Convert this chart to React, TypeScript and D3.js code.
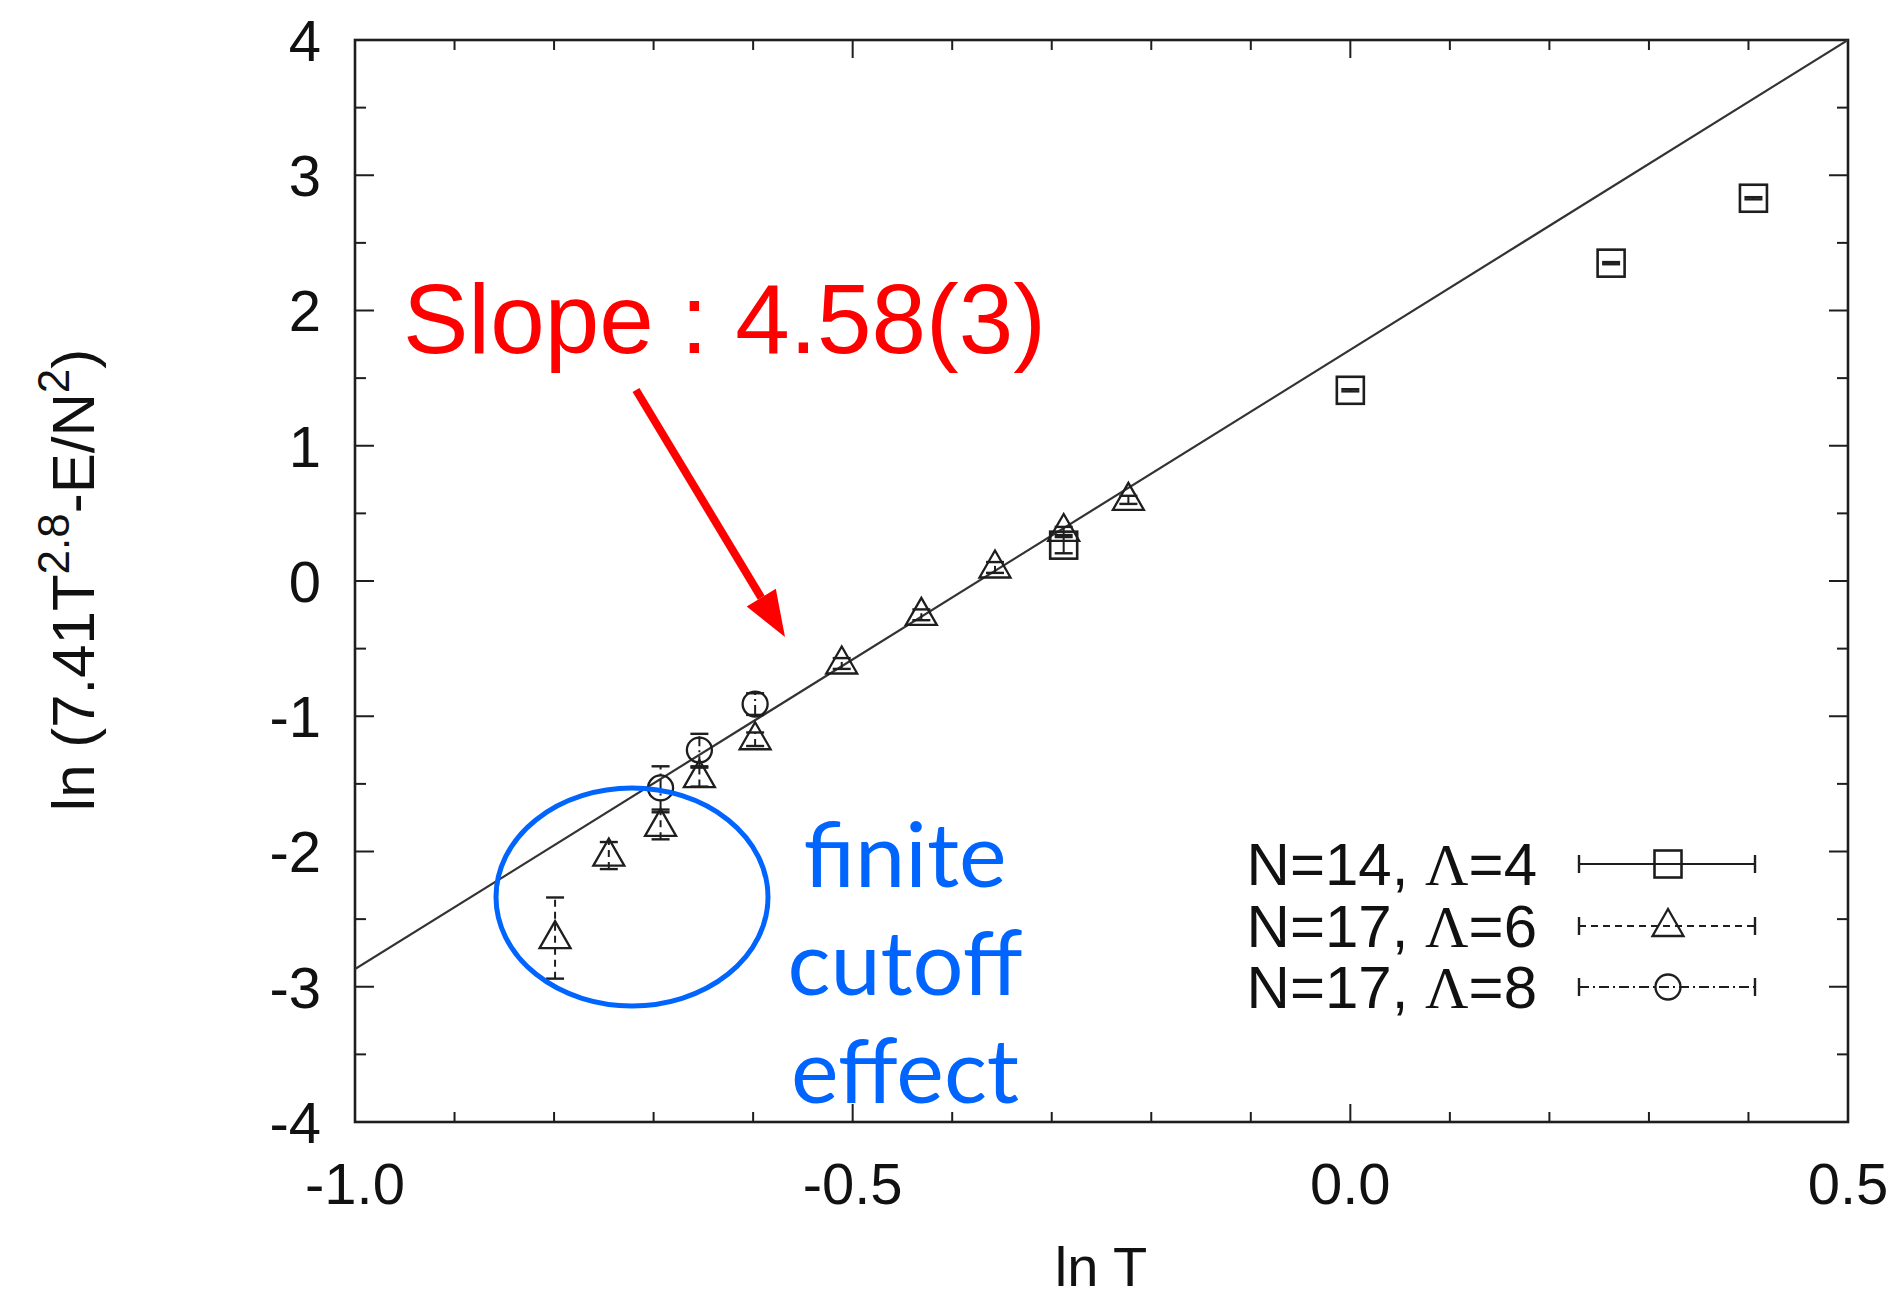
import React from "react";
import * as d3 from "d3";

// ln T values and ln(7.41 T^2.8 - E/N^2) for each run, with error bars
const sqX = [0.405, 0.262, 0.0, -0.288];
const sqY = [2.83, 2.35, 1.41, 0.265];
const sqErr = [0.008, 0.008, 0.008, 0.06];

const triX = [-0.223, -0.288, -0.357, -0.431, -0.511, -0.598, -0.654, -0.693, -0.745, -0.799];
const triY = [0.6, 0.37, 0.1, -0.25, -0.61, -1.17, -1.45, -1.81, -2.03, -2.64];
const triErr = [0.03, 0.03, 0.04, 0.04, 0.04, 0.05, 0.07, 0.1, 0.1, 0.3];

const cirX = [-0.598, -0.654, -0.693];
const cirY = [-0.91, -1.25, -1.53];
const cirErr = [0.08, 0.12, 0.16];

// fitted power law in log-log form
const fitSlope = 4.58;
const fitIntercept = 1.71;

const xTickLabels = ["-1.0", "-0.5", "0.0", "0.5"];
const xTickValues = [-1.0, -0.5, 0.0, 0.5];
const yTickValues = [-4, -3, -2, -1, 0, 1, 2, 3, 4];

const legendNames = ["N=14, ", "N=17, ", "N=17, "];
const legendLambda = ["4", "6", "8"];

const W = 1898;
const H = 1302;
const left = 355;
const right = 1848;
const top = 40;
const bottom = 1122;

const INK = "#1e1e1e";
const BLUE = "#0064ff";
const RED = "#ff0000";
const SANS = "'Liberation Sans', Arial, sans-serif";

type Style = "square" | "triangle" | "circle";

const dashFor: Record<Style, string | undefined> = {
  square: undefined,
  triangle: "7,5",
  circle: "10,4,2,4",
};

function Marker({ kind, cx, cy }: { kind: Style; cx: number; cy: number }) {
  if (kind === "square") {
    const s = 13.5;
    return <rect x={cx - s} y={cy - s} width={2 * s} height={2 * s} fill="none" stroke={INK} strokeWidth={2.6} />;
  }
  if (kind === "triangle") {
    const hw = 15.5;
    const pts = `${cx},${cy - 17} ${cx - hw},${cy + 10} ${cx + hw},${cy + 10}`;
    return <polygon points={pts} fill="none" stroke={INK} strokeWidth={2.3} />;
  }
  return <circle cx={cx} cy={cy} r={12.5} fill="none" stroke={INK} strokeWidth={2.3} />;
}

function ErrorPoint({ kind, px, py, lo, hi }: { kind: Style; px: number; py: number; lo: number; hi: number }) {
  const cap = 9;
  return (
    <g>
      <line x1={px} x2={px} y1={lo} y2={hi} stroke={INK} strokeWidth={2} strokeDasharray={dashFor[kind]} />
      <line x1={px - cap} x2={px + cap} y1={lo} y2={lo} stroke={INK} strokeWidth={2.4} />
      <line x1={px - cap} x2={px + cap} y1={hi} y2={hi} stroke={INK} strokeWidth={2.4} />
      <Marker kind={kind} cx={px} cy={py} />
    </g>
  );
}

export default function App() {
  const x = d3.scaleLinear().domain([-1, 0.5]).range([left, right]);
  const y = d3.scaleLinear().domain([-4, 4]).range([bottom, top]);

  const xMinor = d3.range(-10, 6).map((i) => i / 10);
  const yMinor = d3.range(-8, 9).map((i) => i / 2);

  const series: { kind: Style; xs: number[]; ys: number[]; es: number[] }[] = [
    { kind: "circle", xs: cirX, ys: cirY, es: cirErr },
    { kind: "triangle", xs: triX, ys: triY, es: triErr },
    { kind: "square", xs: sqX, ys: sqY, es: sqErr },
  ];

  const fitLine = d3.line<number>()
    .x((v) => x(v))
    .y((v) => y(fitSlope * v + fitIntercept));

  // arrow pointing at the fitted line
  const ax0 = 636, ay0 = 390, ax1 = 785, ay1 = 637;
  const len = Math.hypot(ax1 - ax0, ay1 - ay0);
  const ux = (ax1 - ax0) / len, uy = (ay1 - ay0) / len;
  const headL = 46, headW = 17;
  const bx = ax1 - ux * headL, by = ay1 - uy * headL;
  const head = `${ax1},${ay1} ${bx - uy * headW},${by + ux * headW} ${bx + uy * headW},${by - ux * headW}`;

  const legendKinds: Style[] = ["square", "triangle", "circle"];
  const legendRowY = [864, 926, 987];

  return (
    <svg width={W} height={H} style={{ position: "absolute", left: 0, top: 0, background: "#fff" }}>
      <defs>
        <clipPath id="plotArea">
          <rect x={left} y={top} width={right - left} height={bottom - top} />
        </clipPath>
      </defs>

      {/* x ticks, bottom and mirrored on top */}
      {xMinor.map((v, i) => {
        const major = xTickValues.some((t) => Math.abs(t - v) < 1e-9);
        const L = major ? 18 : 10;
        return (
          <g key={`xt${i}`} stroke={INK} strokeWidth={2}>
            <line x1={x(v)} x2={x(v)} y1={bottom} y2={bottom - L} />
            <line x1={x(v)} x2={x(v)} y1={top} y2={top + L} />
          </g>
        );
      })}
      {/* y ticks, left and mirrored on right */}
      {yMinor.map((v, i) => {
        const major = Number.isInteger(v);
        const L = major ? 19 : 11;
        return (
          <g key={`yt${i}`} stroke={INK} strokeWidth={2}>
            <line x1={left} x2={left + L} y1={y(v)} y2={y(v)} />
            <line x1={right} x2={right - L} y1={y(v)} y2={y(v)} />
          </g>
        );
      })}

      <rect x={left} y={top} width={right - left} height={bottom - top} fill="none" stroke={INK} strokeWidth={2.6} />

      {/* tick labels */}
      {xTickValues.map((v, i) => (
        <text key={`xl${i}`} x={x(v)} y={1204} textAnchor="middle" fontFamily={SANS} fontSize={58} fill="#111">
          {xTickLabels[i]}
        </text>
      ))}
      {yTickValues.map((v) => (
        <text key={`yl${v}`} x={321} y={y(v)} dy="0.36em" textAnchor="end" fontFamily={SANS} fontSize={58} fill="#111">
          {v}
        </text>
      ))}

      {/* axis titles */}
      <text x={1101} y={1286} textAnchor="middle" fontFamily={SANS} fontSize={56} fill="#111">ln T</text>
      <text transform="translate(94,580) rotate(-90)" textAnchor="middle" fontFamily={SANS} fontSize={60} fill="#111">
        ln (7.41T<tspan fontSize={44} dy={-25}>2.8</tspan>
        <tspan dy={25}>-E/N</tspan>
        <tspan fontSize={44} dy={-25}>2</tspan>
        <tspan dy={25}>)</tspan>
      </text>

      {/* fitted line */}
      <path d={fitLine([-1, 0.5]) ?? ""} fill="none" stroke="#333" strokeWidth={2.2} clipPath="url(#plotArea)" />

      {/* data with error bars */}
      {series.map((s) =>
        s.xs.map((xv, i) => (
          <ErrorPoint
            key={`${s.kind}${i}`}
            kind={s.kind}
            px={x(xv)}
            py={y(s.ys[i])}
            lo={y(s.ys[i] - s.es[i])}
            hi={y(s.ys[i] + s.es[i])}
          />
        ))
      )}

      {/* legend */}
      {legendKinds.map((k, i) => {
        const ly = legendRowY[i];
        return (
          <g key={`lg${k}`}>
            <text x={1537} y={ly + 21} textAnchor="end" fontFamily={SANS} fontSize={60} fill="#111">
              {legendNames[i]}
              <tspan fontFamily="'Liberation Serif', 'Times New Roman', serif">Λ</tspan>={legendLambda[i]}
            </text>
            <line x1={1579} x2={1755} y1={ly} y2={ly} stroke={INK} strokeWidth={2} strokeDasharray={dashFor[k]} />
            <line x1={1579} x2={1579} y1={ly - 9} y2={ly + 9} stroke={INK} strokeWidth={2.4} />
            <line x1={1755} x2={1755} y1={ly - 9} y2={ly + 9} stroke={INK} strokeWidth={2.4} />
            <Marker kind={k} cx={1668} cy={ly} />
          </g>
        );
      })}

      {/* slope annotation */}
      <text x={403} y={353} fontFamily={SANS} fontSize={98} fill={RED}>Slope : 4.58(3)</text>
      <line x1={ax0} y1={ay0} x2={bx} y2={by} stroke={RED} strokeWidth={8} />
      <polygon points={head} fill={RED} />

      {/* finite cutoff note */}
      <ellipse cx={632} cy={897} rx={136} ry={109} fill="none" stroke={BLUE} strokeWidth={5} />
      {["finite", "cutoff", "effect"].map((t, i) => (
        <text key={t} x={905} y={887 + i * 108} textAnchor="middle" fontFamily="Lato, 'Open Sans', sans-serif" fontSize={90} fill={BLUE}>
          {t}
        </text>
      ))}
    </svg>
  );
}
